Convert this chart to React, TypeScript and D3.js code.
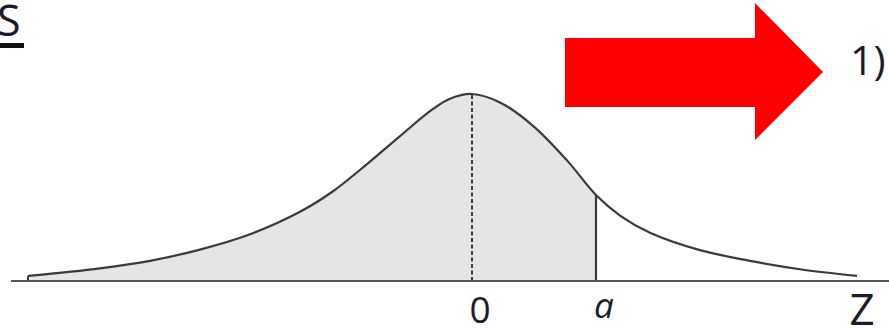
import React from "react";
import * as d3 from "d3";

// Curve: z (0 at the peak, a = 1.24) and relative density
const zValues = [-4.44, -3.72, -3.22, -2.72, -2.22, -1.72, -1.39, -1.05, -0.72, -0.39, -0.22, 0, 0.28, 0.61, 0.95, 1.24, 1.48, 1.78, 2.28, 2.78, 3.28, 3.85];
const densities = [0.027, 0.068, 0.108, 0.168, 0.25, 0.37, 0.48, 0.625, 0.775, 0.92, 0.975, 1, 0.955, 0.83, 0.645, 0.46, 0.35, 0.258, 0.165, 0.108, 0.063, 0.027];
const aValue = 1.24;
const axisLabels = ["0", "a", "Z"];
const titleText = "S";
const sideText = "1)";

const W = 889;
const H = 330;

export default function App() {
  const x = d3.scaleLinear().domain([-4.72, 4.17]).range([0, W]);
  const y = d3.scaleLinear().domain([0, 1]).range([281, 94]);

  const pts: [number, number][] = zValues.map((z, i) => [z, densities[i]]);
  const shaded = pts.filter((p) => p[0] <= aValue);

  const line = d3
    .line<[number, number]>()
    .x((d) => x(d[0]))
    .y((d) => y(d[1]))
    .curve(d3.curveCatmullRom.alpha(0.5));
  const area = d3
    .area<[number, number]>()
    .x((d) => x(d[0]))
    .y0(y(0))
    .y1((d) => y(d[1]))
    .curve(d3.curveCatmullRom.alpha(0.5));

  const aIdx = zValues.indexOf(aValue);
  const x0 = x(0);
  const xa = x(aValue);
  const xStart = x(zValues[0]);

  // arrow geometry
  const arrow = "M565,38 L755,38 L755,3 L823,72 L755,140 L755,107 L565,107 Z";

  return (
    <svg
      width={W}
      height={H}
      style={{ position: "absolute", left: 0, top: 0, background: "#fff" }}
    >
      <rect x={0} y={0} width={W} height={H} fill="#fff" />
      <path d={area(shaded) || ""} fill="#e4e5e7" />
      <path d={line(pts) || ""} fill="none" stroke="#3a3a3a" strokeWidth={2.2} />
      <line x1={xStart} x2={xStart} y1={y(0)} y2={y(densities[0])} stroke="#3a3a3a" strokeWidth={2} />
      <line x1={xa} x2={xa} y1={y(0)} y2={y(densities[aIdx])} stroke="#3a3a3a" strokeWidth={2.2} />
      <line x1={x0} x2={x0} y1={y(0)} y2={y(1)} stroke="#3a3a3a" strokeWidth={2} strokeDasharray="4,2.5" />
      <line x1={11} x2={W} y1={y(0)} y2={y(0)} stroke="#555" strokeWidth={2} />

      <text x={480} y={323} fontFamily="Open Sans" fontSize={37} fill="#1b1b2b" textAnchor="middle">
        {axisLabels[0]}
      </text>
      <text x={604} y={318} fontFamily="Open Sans" fontStyle="italic" fontSize={35} fill="#1b1b2b" textAnchor="middle">
        {axisLabels[1]}
      </text>
      <text x={862} y={325} fontFamily="Open Sans" fontSize={44} fill="#1b1b2b" textAnchor="middle">
        {axisLabels[2]}
      </text>

      <text x={-3} y={36} fontFamily="Open Sans" fontSize={43} fill="#1b1b2b">
        {titleText}
      </text>
      <rect x={0} y={43} width={24} height={5} fill="#111" />

      <path d={arrow} fill="#ff0000" />
      <text x={850} y={75} fontFamily="Open Sans" fontSize={41} fill="#1b1b2b">
        {sideText}
      </text>
    </svg>
  );
}
